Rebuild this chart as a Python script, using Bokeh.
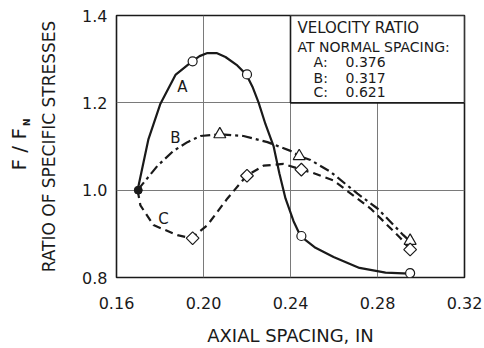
import math
from bokeh.plotting import figure
from bokeh.models import Range1d, FixedTicker, PrintfTickFormatter, Label, Title
from bokeh.embed import file_html
from bokeh.resources import INLINE

# ---- data ----
x_ticks = [0.16, 0.20, 0.24, 0.28, 0.32]
y_ticks = [0.8, 1.0, 1.2, 1.4]

normal_spacing = [0.17]
normal_ratio = [1.0]

spacing_A = [0.195, 0.22, 0.245, 0.295]
ratio_A = [1.295, 1.265, 0.895, 0.81]
spacing_B = [0.2075, 0.244, 0.295]
ratio_B = [1.128, 1.078, 0.884]
spacing_C = [0.195, 0.22, 0.245, 0.295]
ratio_C = [0.89, 1.033, 1.047, 0.864]

# hand-drawn curves
curve_A_x = [0.1697, 0.1715, 0.1747, 0.1802, 0.1871, 0.1945, 0.1982, 0.2018, 0.2060,
             0.2101, 0.2152, 0.2198, 0.2225, 0.2253, 0.2285, 0.2322, 0.2349, 0.2377,
             0.2414, 0.2446, 0.2515, 0.2598, 0.2717, 0.2837, 0.2947]
curve_A_y = [1.0, 1.042, 1.117, 1.198, 1.264, 1.294, 1.307, 1.314, 1.314,
             1.305, 1.287, 1.264, 1.237, 1.201, 1.151, 1.101, 1.038, 0.981,
             0.929, 0.895, 0.868, 0.847, 0.822, 0.811, 0.809]
curve_B_x = [0.1697, 0.1789, 0.1862, 0.1926, 0.1986, 0.2074, 0.2184, 0.2294, 0.2400,
             0.2441, 0.2492, 0.2584, 0.2708, 0.2800, 0.2919, 0.2943]
curve_B_y = [1.0, 1.056, 1.090, 1.110, 1.124, 1.128, 1.124, 1.110, 1.090,
             1.078, 1.069, 1.042, 0.992, 0.958, 0.897, 0.886]
curve_C_x = [0.1697, 0.1710, 0.1770, 0.1880, 0.1945, 0.2018, 0.2110, 0.2198, 0.2276,
             0.2368, 0.2451, 0.2501, 0.2598, 0.2768, 0.2906, 0.2952]
curve_C_y = [1.0, 0.965, 0.920, 0.897, 0.890, 0.920, 0.981, 1.033, 1.056,
             1.060, 1.047, 1.040, 1.022, 0.958, 0.890, 0.863]

curve_names = ["A", "B", "C"]
velocity_ratio = ["0.376", "0.317", "0.621"]

INK = "#1a1a1a"
FONT = "DejaVu Sans"

p = figure(width=484, height=348, output_backend="svg", toolbar_location=None,
           x_range=Range1d(0.16, 0.32), y_range=Range1d(0.8, 1.4),
           min_border_left=116, min_border_right=20, min_border_top=15,
           min_border_bottom=68)
p.background_fill_color = "white"
p.border_fill_color = "white"
p.outline_line_color = INK
p.outline_line_width = 1.6

p.xaxis.ticker = FixedTicker(ticks=x_ticks)
p.yaxis.ticker = FixedTicker(ticks=y_ticks)
p.xaxis.formatter = PrintfTickFormatter(format="%.2f")
p.yaxis.formatter = PrintfTickFormatter(format="%.1f")
for ax in (p.xaxis[0], p.yaxis[0]):
    ax.axis_line_color = None
    ax.major_tick_line_color = None
    ax.minor_tick_line_color = None
    ax.major_tick_out = 0
    ax.major_tick_in = 0
    ax.minor_tick_out = 0
    ax.major_label_text_font = FONT
    ax.major_label_text_font_size = "16px"
    ax.major_label_text_color = INK
    ax.axis_label_text_font = FONT
    ax.axis_label_text_font_style = "normal"
    ax.axis_label_text_color = INK
p.xaxis.axis_label = "AXIAL SPACING, IN"
p.yaxis.axis_label = "RATIO OF SPECIFIC STRESSES"
p.xaxis.axis_label_text_font_size = "18px"
p.yaxis.axis_label_text_font_size = "17px"
p.xaxis.major_label_standoff = 19
p.xaxis.axis_label_standoff = 13
p.yaxis.major_label_standoff = 9
p.yaxis.axis_label_standoff = 20

p.xgrid.ticker = FixedTicker(ticks=x_ticks)
p.ygrid.ticker = FixedTicker(ticks=y_ticks)
p.grid.grid_line_color = "#7a7a7a"
p.grid.grid_line_width = 1

# outer axis title F / F_N (subscript N as its own small title)
p.add_layout(Title(text="N", text_font=FONT, text_font_size="9px",
                   text_font_style="bold", text_color=INK, align="right",
                   offset=103, vertical_align="top", standoff=5), "left")
p.add_layout(Title(text="F / F", text_font=FONT, text_font_size="20px",
                   text_font_style="normal", text_color=INK, align="left",
                   offset=107, vertical_align="bottom", standoff=-22), "left")

# legend box (white panel in upper-right grid cell)
p.quad(left=[0.24], right=[0.32], bottom=[1.2], top=[1.4],
       fill_color="white", line_color=INK, line_width=1.6)

# curves
p.line(curve_A_x, curve_A_y, line_color=INK, line_width=2.2)
p.line(curve_B_x, curve_B_y, line_color=INK, line_width=2.2, line_dash="10 4 3 4")
p.line(curve_C_x, curve_C_y, line_color=INK, line_width=2.2, line_dash="8 5")

# markers
p.scatter(spacing_A, ratio_A, marker="circle", size=9, fill_color="white",
          line_color=INK, line_width=1.2)
p.scatter(spacing_B, ratio_B, marker="triangle", size=12, fill_color="white",
          line_color=INK, line_width=1.2)
p.scatter(spacing_C, ratio_C, marker="square", angle=math.pi / 4, size=9,
          fill_color="white", line_color=INK, line_width=1.2)
p.scatter(normal_spacing, normal_ratio, marker="circle", size=8,
          fill_color=INK, line_color=INK)

# curve labels
lab_x = [0.1903, 0.1871, 0.1816]
lab_y = [1.237, 1.119, 0.933]
for name, lx, ly in zip(curve_names, lab_x, lab_y):
    p.add_layout(Label(x=lx, y=ly, text=name, text_font=FONT, text_font_size="15px",
                       text_color=INK, text_align="center", text_baseline="middle"))

# legend text
p.add_layout(Label(x=0.2432, y=1.372, text="VELOCITY RATIO", text_font=FONT,
                   text_font_size="15px", text_color=INK, text_baseline="middle"))
p.add_layout(Label(x=0.2432, y=1.327, text="AT NORMAL SPACING:", text_font=FONT,
                   text_font_size="14px", text_color=INK, text_baseline="middle"))
row_y = [1.293, 1.257, 1.225]
for name, vr, ry in zip(curve_names, velocity_ratio, row_y):
    p.add_layout(Label(x=0.2506, y=ry, text=name + ":", text_font=FONT,
                       text_font_size="14px", text_color=INK, text_baseline="middle"))
    p.add_layout(Label(x=0.2653, y=ry, text=vr, text_font=FONT,
                       text_font_size="14px", text_color=INK, text_baseline="middle"))

open("out.html", "w").write(file_html(p, INLINE))
